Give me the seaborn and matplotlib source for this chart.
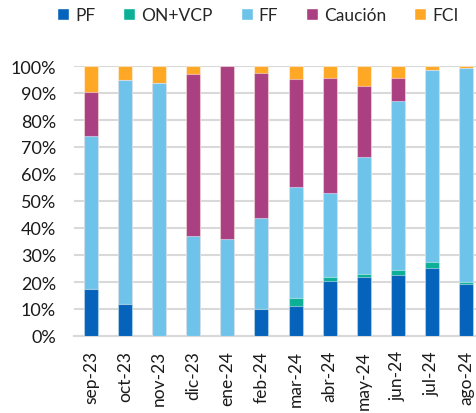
import numpy as np
import pandas as pd
import matplotlib
matplotlib.use("Agg")
import matplotlib.pyplot as plt
import seaborn as sns
from matplotlib.patches import Patch
from matplotlib.ticker import PercentFormatter

# datos (% del total por mes)
meses = ["sep-23", "oct-23", "nov-23", "dic-23", "ene-24", "feb-24",
         "mar-24", "abr-24", "may-24", "jun-24", "jul-24", "ago-24"]
pf = [17.5, 11.7, 0.0, 0.0, 0.0, 9.9, 11.0, 20.2, 21.7, 22.6, 25.1, 19.3]
on_vcp = [0.0, 0.0, 0.0, 0.0, 0.0, 0.0, 3.0, 1.8, 1.4, 1.7, 2.2, 0.7]
ff = [56.5, 83.0, 93.6, 36.9, 35.8, 33.9, 41.2, 31.1, 43.1, 62.6, 71.2, 79.4]
caucion = [16.5, 0.0, 0.0, 60.3, 64.2, 53.6, 40.1, 42.6, 26.3, 8.5, 0.0, 0.0]
fci = [9.5, 5.3, 6.4, 2.8, 0.0, 2.6, 4.7, 4.3, 7.5, 4.6, 1.5, 0.6]

series = ["PF", "ON+VCP", "FF", "Caución", "FCI"]
colores = ["#0563BB", "#0BB096", "#6EC3EA", "#AA3F82", "#FFA826"]

df = pd.DataFrame({"mes": meses, "PF": pf, "ON+VCP": on_vcp, "FF": ff,
                   "Caución": caucion, "FCI": fci})
acum = df[series].cumsum(axis=1) / 100.0
acum["mes"] = df["mes"]

sns.set_style("white")
plt.rcParams["font.family"] = ["Lato", "DejaVu Sans"]

fig = plt.figure(figsize=(4.76, 4.14), dpi=100)
ax = fig.add_axes([74 / 476, 77 / 414, 409 / 476, 270 / 414])

# barras apiladas: se dibuja el acumulado de arriba hacia abajo
for s, c in reversed(list(zip(series, colores))):
    sns.barplot(data=acum, x="mes", y=s, color=c, width=0.41, ax=ax,
                saturation=1, edgecolor=(1, 1, 1, 0.45), linewidth=0.8,
                zorder=3)

ax.set_ylim(0, 1)
ax.set_xlim(-0.5, len(meses) - 0.5)
ax.set_yticks(np.arange(0, 1.01, 0.1))
ax.yaxis.set_major_formatter(PercentFormatter(1.0, decimals=0))
ax.grid(axis="y", color="#D9D9D9", linewidth=1.5, zorder=0)
ax.set_axisbelow(True)
ax.set_xlabel("")
ax.set_ylabel("")
for sp in ["top", "right", "left"]:
    ax.spines[sp].set_visible(False)
ax.spines["bottom"].set_color("#D9D9D9")
ax.spines["bottom"].set_linewidth(1.5)
ax.tick_params(axis="y", length=0, pad=13, labelsize=13, colors="#1a1a1a")
ax.tick_params(axis="x", length=0, pad=10, labelsize=12.5, colors="#1a1a1a",
               labelrotation=90)

handles = [Patch(facecolor=c, label=s) for s, c in zip(series, colores)]
fig.legend(handles=handles, loc="upper left", bbox_to_anchor=(0.087, 1.018),
           ncol=5, frameon=False, fontsize=12.5, handlelength=0.7,
           handleheight=0.7, handletextpad=0.35, columnspacing=1.6)

fig.savefig("out.png", dpi=100)
